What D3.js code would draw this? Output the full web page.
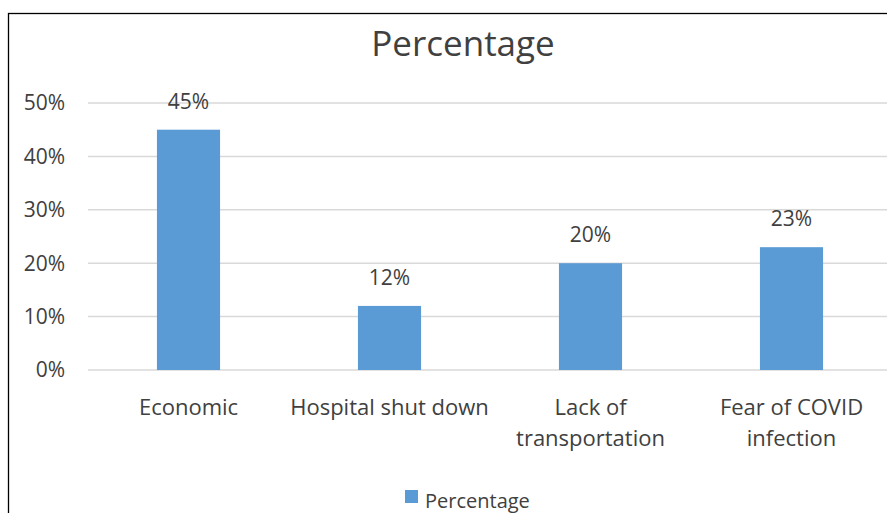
<!DOCTYPE html>
<html>
<head>
<meta charset="utf-8">
<script src="https://cdn.jsdelivr.net/npm/d3@7"></script>
<style>
  body { margin: 0; background: #fff; }
  svg { display: block; }
  text { font-family: "Open Sans", "Noto Sans", sans-serif; fill: #404040; }
</style>
</head>
<body>
<div id="chart"></div>
<script>
const categories = ['Economic', 'Hospital shut down', 'Lack of\ntransportation', 'Fear of COVID\ninfection']
const values = [45, 12, 20, 23]
const yTicks = [0, 10, 20, 30, 40, 50]
const seriesName = 'Percentage'

const W = 887, H = 513
const margin = { top: 103, left: 88, right: -5, bottom: 143 }
const width = W - margin.left - margin.right
const height = H - margin.top - margin.bottom

const svg = d3.select('#chart').append('svg')
  .attr('width', W).attr('height', H)

// outer border (clipped on right/bottom like the original)
svg.append('rect')
  .attr('x', 8.5).attr('y', 13.5)
  .attr('width', 920).attr('height', 520)
  .attr('fill', 'none').attr('stroke', '#000').attr('stroke-width', 1.3)

svg.append('text')
  .attr('x', 463).attr('y', 56)
  .attr('text-anchor', 'middle')
  .style('font-size', '35px')
  .text(seriesName)

const g = svg.append('g')
  .attr('transform', `translate(${margin.left},${margin.top})`)

const x = d3.scaleBand()
  .domain(categories)
  .range([0, width])
  .paddingInner(0.686)
  .paddingOuter(0.343)

const y = d3.scaleLinear()
  .domain([0, 50])
  .range([height, 0])

// gridlines
g.selectAll('.grid')
  .data(yTicks)
  .enter()
  .append('line')
  .attr('x1', 0).attr('x2', width)
  .attr('y1', d => y(d)).attr('y2', d => y(d))
  .attr('stroke', '#d9d9d9').attr('stroke-width', 1.5)

// y axis labels
g.selectAll('.ylab')
  .data(yTicks)
  .enter()
  .append('text')
  .attr('x', -23)
  .attr('y', d => y(d))
  .attr('dy', '0.35em')
  .attr('text-anchor', 'end')
  .style('font-size', '21px')
  .text(d => d + '%')

// bars
g.selectAll('.bar')
  .data(values)
  .enter()
  .append('rect')
  .attr('x', (d, i) => x(categories[i]))
  .attr('y', d => y(d))
  .attr('width', x.bandwidth())
  .attr('height', d => height - y(d))
  .attr('fill', '#5b9bd5')

// value labels
g.selectAll('.vlab')
  .data(values)
  .enter()
  .append('text')
  .attr('x', (d, i) => x(categories[i]) + x.bandwidth() / 2)
  .attr('y', d => y(d) - 21)
  .attr('text-anchor', 'middle')
  .style('font-size', '21px')
  .text(d => d + '%')

// category labels
const catLabels = g.selectAll('.clab')
  .data(categories)
  .enter()
  .append('text')
  .attr('text-anchor', 'middle')
  .attr('transform', d => `translate(${x(d) + x.bandwidth() / 2},${height + 45})`)
  .style('font-size', '22px')

catLabels.selectAll('tspan')
  .data(d => d.split('\n'))
  .enter()
  .append('tspan')
  .attr('x', 0)
  .attr('y', (d, i) => i * 31)
  .text(d => d)

// legend
const legend = svg.append('g').attr('transform', 'translate(405,490)')
legend.append('rect')
  .attr('width', 13).attr('height', 13)
  .attr('fill', '#5b9bd5')
legend.append('text')
  .attr('x', 20).attr('y', 18)
  .style('font-size', '20px')
  .text(seriesName)
</script>
</body>
</html>
